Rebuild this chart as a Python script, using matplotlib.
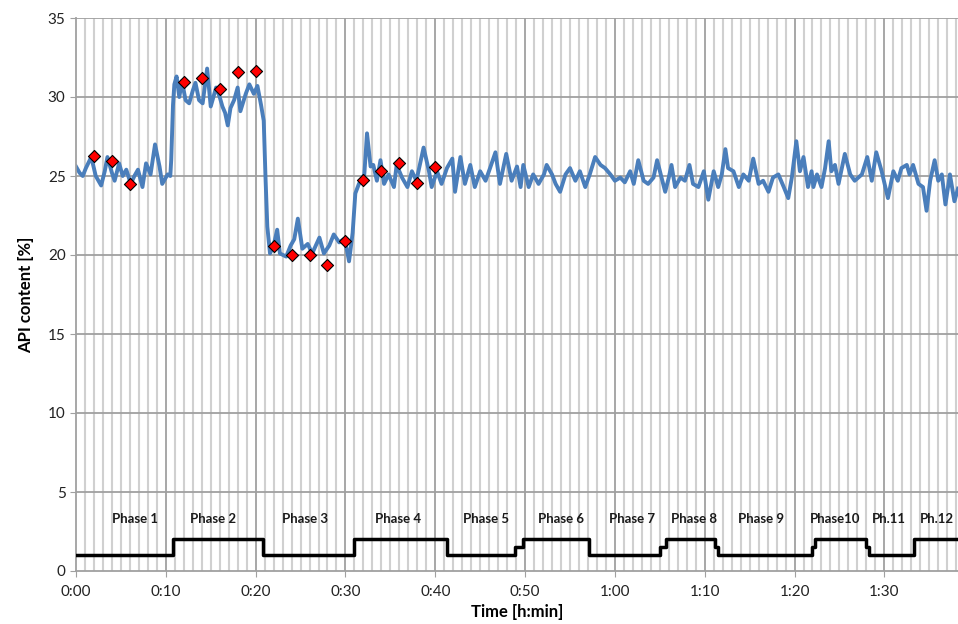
import matplotlib
matplotlib.use("Agg")
import matplotlib.pyplot as plt
import numpy as np

plt.rcParams['font.family'] = ['Lato', 'DejaVu Sans']

# NIR API signal (time in minutes, API content %)
api_time = [0.0, 0.4, 0.75, 1.1, 1.7, 2.2, 2.8, 3.2, 3.5, 4.0, 4.3, 4.8, 5.2, 5.6, 6.1, 6.5, 6.9, 7.4, 7.8, 8.3,
            8.8, 9.3, 9.6, 10.2, 10.5, 10.6, 10.8, 10.95, 11.2, 11.5, 11.8, 12.2, 12.6, 13.0, 13.3, 13.7, 14.1, 14.6, 15.0, 15.6,
            16.0, 16.3, 16.6, 16.9, 17.2, 17.6, 18.0, 18.3, 18.9, 19.3, 19.8, 20.2, 20.6, 20.9, 21.1, 21.3, 21.6, 22.0, 22.4, 22.7,
            23.4, 23.9, 24.3, 24.7, 25.2, 25.8, 26.3, 26.7, 27.1, 27.6, 28.2, 28.7, 29.3, 29.8, 30.1, 30.4, 30.8, 31.1, 31.5, 32.1,
            32.4, 32.8, 33.1, 33.5, 33.9, 34.3, 34.8, 35.4, 35.7, 36.3, 36.9, 37.4, 37.9, 38.7, 39.3, 39.6, 40.2, 40.7, 41.3, 41.9,
            42.2, 42.8, 43.3, 43.9, 44.4, 45.0, 45.6, 46.1, 46.7, 47.2, 47.9, 48.5, 49.1, 49.5, 49.8, 50.4, 50.9, 51.5, 52.1, 52.4,
            53.0, 53.4, 53.9, 54.5, 55.0, 55.6, 56.1, 56.7, 57.2, 57.8, 58.4, 58.9, 59.5, 60.0, 60.6, 61.1, 61.7, 62.1, 62.6, 63.2,
            63.7, 64.3, 64.7, 65.2, 65.6, 66.0, 66.3, 66.7, 67.3, 67.8, 68.3, 68.7, 69.3, 69.9, 70.4, 71.0, 71.5, 71.9, 72.3, 72.6,
            73.2, 73.8, 74.3, 74.9, 75.4, 76.0, 76.5, 77.1, 77.6, 78.2, 78.8, 79.3, 79.7, 80.2, 80.6, 81.0, 81.5, 81.9, 82.1, 82.5,
            83.0, 83.4, 83.8, 84.1, 84.5, 84.9, 85.6, 86.2, 86.7, 87.5, 88.1, 88.6, 89.1, 89.7, 90.4, 91.0, 91.5, 91.9, 92.5, 92.8,
            93.2, 93.8, 94.3, 94.7, 95.1, 95.6, 96.0, 96.4, 96.8, 97.3, 97.8, 98.2]
api_value = [25.6, 25.2, 25.0, 25.5, 26.2, 25.0, 24.4, 25.3, 26.2, 25.2, 24.7, 25.8, 25.0, 25.4, 24.5, 25.0, 25.4, 24.3, 25.8, 25.1,
             27.0, 25.6, 24.5, 25.1, 25.0, 26.0, 29.5, 30.8, 31.3, 30.0, 31.0, 29.8, 29.6, 30.4, 30.9, 29.8, 29.6, 31.8, 29.4, 30.6,
             30.0, 29.4, 29.0, 28.2, 29.3, 29.8, 30.6, 29.1, 30.2, 30.8, 30.2, 30.7, 29.5, 28.5, 24.9, 21.8, 20.1, 20.6, 21.6, 20.1,
             19.9, 20.6, 21.0, 22.3, 20.4, 20.7, 20.1, 20.6, 21.1, 20.1, 20.6, 21.3, 20.8, 21.0, 20.5, 19.6, 21.4, 23.9, 24.5, 25.1,
             27.7, 25.6, 25.7, 24.7, 26.0, 24.5, 25.1, 24.3, 25.7, 24.9, 24.3, 25.3, 24.7, 26.8, 25.3, 24.3, 25.3, 24.5, 25.5, 26.1,
             24.0, 26.2, 24.5, 25.7, 24.3, 25.3, 24.7, 25.5, 26.5, 24.5, 26.4, 24.7, 25.6, 24.3, 25.7, 24.3, 25.1, 24.5, 25.1, 25.7,
             25.1, 24.5, 24.0, 25.1, 25.5, 24.7, 25.3, 24.3, 25.1, 26.2, 25.7, 25.5, 25.1, 24.7, 24.9, 24.6, 25.3, 24.5, 26.0, 24.7,
             24.5, 24.9, 26.0, 24.9, 24.0, 24.9, 25.7, 24.3, 24.9, 24.7, 25.7, 24.5, 24.3, 25.3, 23.5, 25.3, 24.3, 25.1, 26.7, 25.5,
             25.3, 24.3, 25.1, 24.7, 26.1, 24.5, 24.7, 24.0, 24.9, 25.1, 24.3, 23.6, 24.9, 27.2, 25.3, 26.2, 24.3, 25.3, 24.3, 25.1,
             24.3, 25.5, 27.2, 25.3, 25.7, 24.5, 26.4, 25.1, 24.7, 25.1, 26.2, 24.7, 26.5, 25.3, 23.6, 25.3, 24.7, 25.5, 25.7, 25.1,
             25.7, 24.5, 24.3, 22.8, 24.7, 26.0, 24.7, 25.1, 23.2, 25.1, 23.4, 24.2]

# Reference samples (red diamonds)
ref_time = [2, 4, 6, 12, 14, 16, 18, 20, 22, 24, 26, 28, 30, 32, 34, 36, 38, 40]
ref_value = [26.26, 25.92, 24.5, 30.95, 31.18, 30.5, 31.6, 31.66, 20.6, 20.0, 19.97, 19.37, 20.9,
             24.74, 25.3, 25.8, 24.55, 25.54]

# Phase indicator (step line)
phase_time = [0, 10.8, 20.8, 30.9, 41.3, 48.9, 49.8, 57.1, 65.0, 65.7, 71.1, 71.5, 82.0, 82.3, 88.0, 88.3, 93.3, 98.2]
phase_level = [1, 2, 1, 2, 1, 1.5, 2, 1, 1.5, 2, 1.5, 1, 1.5, 2, 1.5, 1, 2, 2]

phase_names = ["Phase 1", "Phase 2", "Phase 3", "Phase 4", "Phase 5", "Phase 6", "Phase 7",
               "Phase 8", "Phase 9", "Phase10", "Ph.11", "Ph.12"]
phase_label_pos = [6.6, 15.3, 25.5, 35.9, 45.7, 54.0, 61.9, 68.8, 76.3, 84.5, 90.5, 95.9]

x_ticks = [0, 10, 20, 30, 40, 50, 60, 70, 80, 90]
x_ticklabels = ["0:00", "0:10", "0:20", "0:30", "0:40", "0:50", "1:00", "1:10", "1:20", "1:30"]
y_ticks = [0, 5, 10, 15, 20, 25, 30, 35]

fig = plt.figure(figsize=(9.58, 6.24), dpi=100)
ax = fig.add_axes([76/958, 53/624, (958-76)/958, (571-18)/624])

ax.set_xlim(0, 98.2)
ax.set_ylim(0, 35)

# grid
for m in range(1, 99):
    if m % 10 != 0:
        ax.axvline(m, color='#d0d0d0', lw=1.5, zorder=0)
for m in x_ticks[1:]:
    ax.axvline(m, color='#a0a0a0', lw=1.3, zorder=0.5)
for v in y_ticks[1:]:
    ax.axhline(v, color='#a0a0a0', lw=1.3, zorder=0.5)

ax.plot(api_time, api_value, color='#4a7ebb', lw=2.8, zorder=2, solid_joinstyle='round')
ax.plot(phase_time, phase_level, drawstyle='steps-post', color='black', lw=2.5, zorder=3)
ax.scatter(ref_time, ref_value, marker='D', s=38, facecolor='#ff0000', edgecolor='black', linewidths=0.8, zorder=4)

for name, pos in zip(phase_names, phase_label_pos):
    ax.text(pos, 3.3, name, ha='center', va='center', fontsize=9.5, fontweight='bold', color='#1a1a1a')

ax.set_xticks(x_ticks)
ax.set_xticklabels(x_ticklabels)
ax.set_yticks(y_ticks)
ax.tick_params(axis='both', direction='out', length=4, color='#a0a0a0', labelsize=11, labelcolor='#222222')
ax.tick_params(axis='x', pad=6)

for s in ['top', 'right']:
    ax.spines[s].set_visible(False)
for s in ['left', 'bottom']:
    ax.spines[s].set_color('#a0a0a0')
    ax.spines[s].set_linewidth(1.3)

ax.set_xlabel("Time [h:min]", fontsize=12, fontweight='bold', labelpad=4)
ax.set_ylabel("API content [%]", fontsize=12, fontweight='bold', labelpad=10)

fig.savefig("out.png", dpi=100)
